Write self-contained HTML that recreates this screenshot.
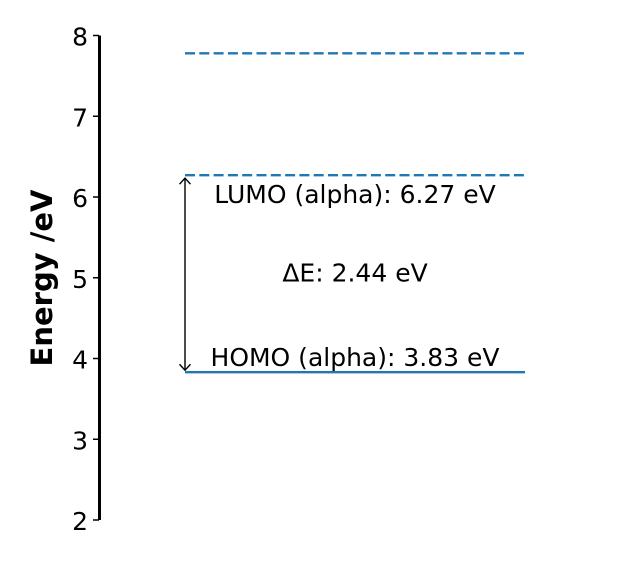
<!DOCTYPE html>
<html><head><meta charset="utf-8"><style>
body{margin:0;background:#fff}
svg text{font-family:"DejaVu Sans","Liberation Sans",sans-serif}
</style></head><body>
<svg width="637" height="562" viewBox="0 0 637 562">
<defs>
<marker id="ah" markerWidth="14" markerHeight="14" refX="7" refY="7" orient="auto-start-reverse" markerUnits="userSpaceOnUse">
<path d="M1,1.5 L7,7 L1,12.5" fill="none" stroke="#000" stroke-width="1.4"/>
</marker>
</defs>
<g id="axis"></g>
<g id="marks"></g>
<text x="52" y="278" font-size="29" font-weight="bold" text-anchor="middle" transform="rotate(-90 52 278)">Energy /eV</text>
</svg>
<script>
const ticks=[2,3,4,5,6,7,8];
const levelValues=[3.83,6.27,7.78];
const levelStyles=["solid","dashed","dashed"];
const homo=3.83, lumo=6.27;
const labels=["LUMO (alpha): 6.27 eV","ΔE: 2.44 eV","HOMO (alpha): 3.83 eV"];
const ns="http://www.w3.org/2000/svg";
const y0=520,y1=35.5,vmin=2,vmax=8;
const Y=v=>y0-(v-vmin)/(vmax-vmin)*(y0-y1);
function mk(t,a,p){const e=document.createElementNS(ns,t);for(const k in a)e.setAttribute(k,a[k]);p.appendChild(e);return e;}
const ax=document.getElementById('axis'),mg=document.getElementById('marks');
const al=mk('line',{x1:99.5,x2:99.5,y1:Y(vmax),y2:Y(vmin),stroke:'#000','stroke-width':3},ax);


ticks.forEach(t=>{
 const l=mk('line',{x1:93,x2:99,y1:Y(t),y2:Y(t),stroke:'#000','stroke-width':1.5},ax);
 
 
 const tx=mk('text',{x:88,y:Y(t)+10,'font-size':25,'text-anchor':'end'},ax);
 tx.textContent=t;
 
 
});
levelValues.forEach((v,i)=>{
 const a={x1:185,x2:525,y1:Y(v),y2:Y(v),stroke:'#1f77b4','stroke-width':2.4};
 if(levelStyles[i]==='dashed')a['stroke-dasharray']='10,4.3';
 const l=mk('line',a,mg);
 
 
});
const ar=mk('line',{x1:185,x2:185,y1:Y(homo)-2,y2:Y(lumo)+3,stroke:'#000','stroke-width':1.4,'marker-start':'url(#ah)','marker-end':'url(#ah)'},mg);


const ly=[Y(lumo)+28,Y((homo+lumo)/2)+8,Y(homo)-6];
const lx=[355,355,355];
labels.forEach((s,i)=>{
 const t=mk('text',{x:lx[i],y:ly[i],'font-size':25,'text-anchor':'middle'},mg);
 t.textContent=s;
 
 
});
</script>
</body></html>
